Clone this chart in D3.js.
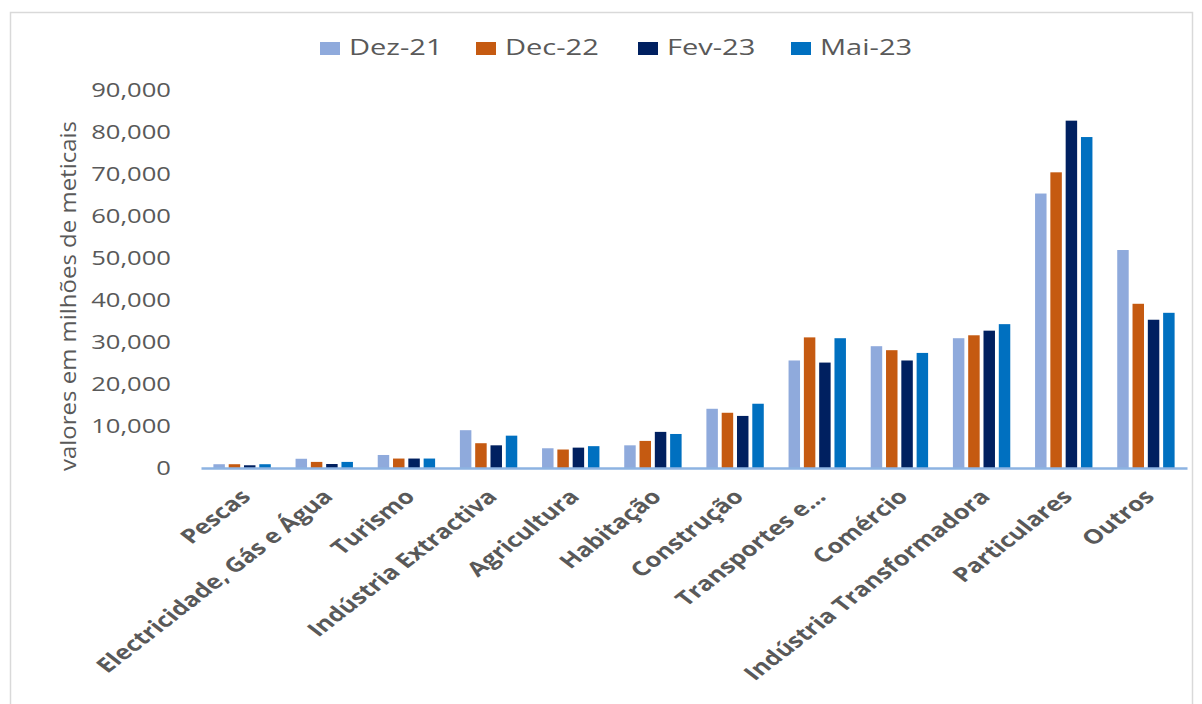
<!DOCTYPE html>
<html><head><meta charset="utf-8">
<script src="https://cdn.jsdelivr.net/npm/d3@7/dist/d3.min.js"></script>
<style>body{margin:0;background:#fff;} svg{display:block;}</style>
</head><body>
<svg id="c" width="1202" height="704"></svg>
<script>
const categories = ["Pescas","Electricidade, Gás e Água","Turismo","Indústria Extractiva","Agricultura","Habitação","Construção","Transportes e...","Comércio","Indústria Transformadora","Particulares","Outros"];
const seriesNames = ["Dez-21","Dec-22","Fev-23","Mai-23"];
const dez21 = [900,2200,3100,9000,4700,5400,14100,25600,29000,30900,65350,51900];
const dec22 = [900,1450,2250,5900,4400,6450,13150,31100,28050,31600,70400,39100];
const fev23 = [650,950,2250,5400,4850,8600,12400,25100,25600,32700,82700,35300];
const mai23 = [900,1450,2250,7700,5200,8100,15300,30900,27400,34250,78800,36950];
const yTicks = [0,10000,20000,30000,40000,50000,60000,70000,80000,90000];
const colors = ["#8faadc","#c55a11","#002060","#0070c0"];
const seriesValues = [dez21,dec22,fev23,mai23];

const svg = d3.select("#c");
svg.append("rect").attr("x",10.5).attr("y",12.5).attr("width",1182).attr("height",720)
  .attr("fill","none").attr("stroke","#d9d9d9").attr("stroke-width",1.5);

const x0 = d3.scaleBand().domain(categories).range([201,1187]);
const x1 = d3.scaleBand().domain(seriesNames).range([0,x0.bandwidth()]).paddingInner(0.25).paddingOuter(0.81);
const y = d3.scaleLinear().domain([0,90000]).range([468,90]);

// y axis
const yAxis = svg.append("g").attr("transform","translate(171,0) scale(1.28,1)")
  .call(d3.axisLeft(y).tickValues(yTicks).tickFormat(d3.format(",")).tickSize(0).tickPadding(0));
yAxis.select(".domain").remove();
yAxis.selectAll("text").attr("fill","#595959").style("font-family","Open Sans").style("font-size","20px");

// bars
const data = categories.map((c,i)=>({c, vals: seriesNames.map((s,j)=>({s, v: seriesValues[j][i], k:j}))}));
const g = svg.append("g").selectAll("g").data(data).join("g").attr("transform",d=>`translate(${x0(d.c)},0)`);
g.selectAll("rect").data(d=>d.vals).join("rect")
  .attr("x",d=>x1(d.s)).attr("width",x1.bandwidth())
  .attr("y",d=>y(d.v)).attr("height",d=>y(0)-y(d.v))
  .attr("fill",d=>colors[d.k]);

// x axis
const xAxis = svg.append("g").attr("transform","translate(0,468)")
  .call(d3.axisBottom(x0).tickSize(0).tickPadding(0));
xAxis.select(".domain").attr("stroke","#8db3e2").attr("stroke-width",2.5);
xAxis.selectAll("text")
  .attr("text-anchor","end").attr("dy",0).attr("y",0)
  .attr("transform","translate(10,30) scale(1.29,1) rotate(-45)")
  .attr("fill","#595959").style("font-family","Open Sans").style("font-weight","700")
  .style("font-size","20px");

// y title
svg.append("text").attr("transform","translate(76,296) rotate(-90)").attr("text-anchor","middle")
  .attr("fill","#595959").style("font-family","Open Sans").style("font-size","21px")
  .attr("textLength",350).attr("lengthAdjust","spacingAndGlyphs")
  .text("valores em milhões de meticais");

// legend
const legX = [320,476,638,791];
const leg = svg.append("g").selectAll("g").data(seriesNames).join("g")
  .attr("transform",(d,i)=>`translate(${legX[i]},42)`);
leg.append("rect").attr("width",20).attr("height",13).attr("fill",(d,i)=>colors[i]);
leg.append("text").attr("transform","translate(29,13) scale(1.32,1)").attr("fill","#595959")
  .style("font-family","Open Sans").style("font-size","22px").text(d=>d);
</script>
</body></html>
